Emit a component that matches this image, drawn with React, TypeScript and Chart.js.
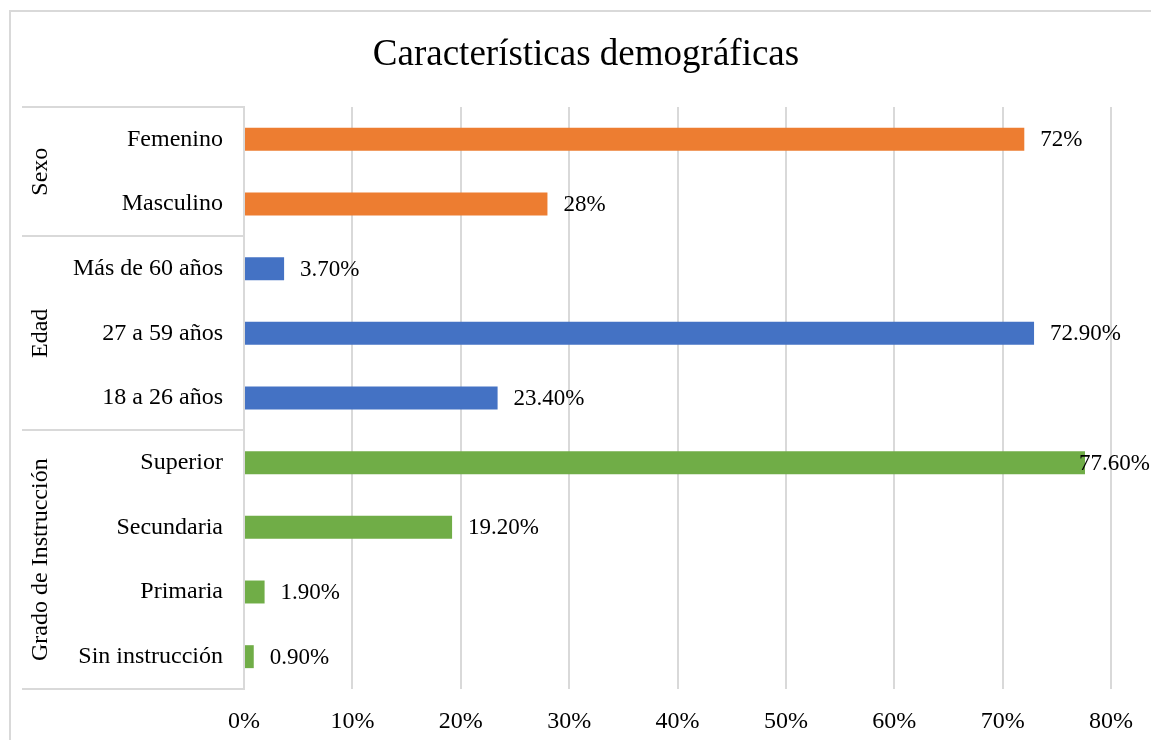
import React, { useEffect, useRef } from "react";
import { Chart, registerables } from "chart.js";

Chart.register(...registerables);

const categories = [
  "Femenino",
  "Masculino",
  "Más de 60 años",
  "27 a 59 años",
  "18 a 26 años",
  "Superior",
  "Secundaria",
  "Primaria",
  "Sin instrucción",
];
const values = [72, 28, 3.7, 72.9, 23.4, 77.6, 19.2, 1.9, 0.9];
const valueLabels = ["72%", "28%", "3.70%", "72.90%", "23.40%", "77.60%", "19.20%", "1.90%", "0.90%"];
const groups = ["Sexo", "Edad", "Grado de Instrucción"];
const groupOf = [0, 0, 1, 1, 1, 2, 2, 2, 2];
const groupColors = ["#ED7D31", "#4472C4", "#70AD47"];
const title = "Características demográficas";

const FONT = "'Liberation Serif', 'Times New Roman', serif";
const GRID = "#d9d9d9";
const FS = 24;
const VFS = 23;

const decorPlugin = {
  id: "decor",
  beforeDraw(chart: any) {
    const ctx = chart.ctx;
    ctx.save();
    ctx.fillStyle = "#fff";
    ctx.fillRect(0, 0, chart.width, chart.height);
    ctx.strokeStyle = GRID;
    ctx.lineWidth = 2;
    ctx.strokeRect(10, 11, chart.width + 20, chart.height + 20);
    ctx.restore();
  },
  afterDraw(chart: any) {
    const ctx = chart.ctx;
    const y = chart.scales.y;
    const area = chart.chartArea;
    ctx.save();
    // title
    ctx.fillStyle = "#000";
    ctx.font = `37px ${FONT}`;
    ctx.textAlign = "center";
    ctx.textBaseline = "middle";
    ctx.fillText(title, 586, 55);

    // group separators
    ctx.strokeStyle = GRID;
    ctx.lineWidth = 2;
    const bounds: number[] = [area.top];
    for (let i = 1; i < groupOf.length; i++) {
      if (groupOf[i] !== groupOf[i - 1]) {
        bounds.push((y.getPixelForValue(i - 1) + y.getPixelForValue(i)) / 2);
      }
    }
    bounds.push(area.bottom);
    bounds.forEach((b) => {
      ctx.beginPath();
      ctx.moveTo(22, Math.round(b));
      ctx.lineTo(area.left, Math.round(b));
      ctx.stroke();
    });
    // group labels
    ctx.fillStyle = "#000";
    ctx.font = `${FS}px ${FONT}`;
    groups.forEach((g, gi) => {
      const cy = (bounds[gi] + bounds[gi + 1]) / 2;
      ctx.save();
      ctx.translate(41, cy);
      ctx.rotate(-Math.PI / 2);
      ctx.textAlign = "center";
      ctx.textBaseline = "middle";
      ctx.fillText(g, 0, 0);
      ctx.restore();
    });

    // value labels
    const meta = chart.getDatasetMeta(0);
    ctx.font = `${VFS}px ${FONT}`;
    ctx.textAlign = "left";
    ctx.textBaseline = "middle";
    meta.data.forEach((bar: any, i: number) => {
      const txt = valueLabels[i];
      const w = ctx.measureText(txt).width;
      let x = bar.x + 16;
      if (x + w > chart.width - 1) x = chart.width - 1 - w;
      ctx.fillText(txt, x, bar.y + 1);
    });
    ctx.restore();
  },
};

export default function App() {
  const ref = useRef<HTMLCanvasElement>(null);
  useEffect(() => {
    if (!ref.current) return;
    const chart = new Chart(ref.current, {
      type: "bar",
      data: {
        labels: categories,
        datasets: [
          {
            data: values,
            backgroundColor: groupOf.map((g) => groupColors[g]),
            barPercentage: 0.355,
            categoryPercentage: 1,
          },
        ],
      },
      options: {
        indexAxis: "y",
        animation: false,
        responsive: false,
        devicePixelRatio: 1,
        layout: { padding: { left: 0, top: 107, right: 40, bottom: 0 } },
        plugins: { legend: { display: false }, tooltip: { enabled: false }, title: { display: false } },
        scales: {
          x: {
            min: 0,
            max: 80,
            ticks: {
              stepSize: 10,
              callback: (v: any) => v + "%",
              font: { family: FONT, size: FS },
              color: "#000",
              padding: 18,
            },
            grid: { color: GRID, lineWidth: 2, drawTicks: false },
            border: { display: false },
            afterFit: (s: any) => {
              s.height = 51;
            },
          },
          y: {
            ticks: {
              font: { family: FONT, size: FS },
              color: "#000",
              padding: 21,
            },
            grid: { display: false, drawTicks: false },
            border: { display: true, color: GRID, width: 2 },
            afterFit: (s: any) => {
              s.width = 244;
            },
          },
        },
      },
      plugins: [decorPlugin],
    });
    return () => chart.destroy();
  }, []);
  return (
    <div style={{ position: "fixed", left: 0, top: 0, width: 1151, height: 740 }}>
      <canvas ref={ref} width={1151} height={740} style={{ width: 1151, height: 740, display: "block" }} />
    </div>
  );
}
